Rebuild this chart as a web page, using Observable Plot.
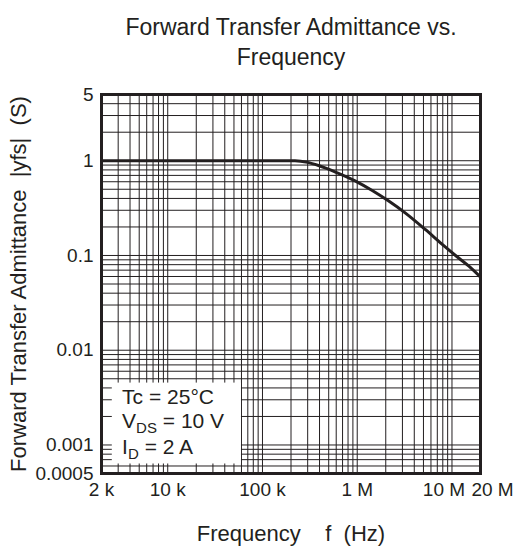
<!DOCTYPE html>
<html>
<head>
<meta charset="utf-8">
<script src="https://cdn.jsdelivr.net/npm/d3@7"></script>
<script src="https://cdn.jsdelivr.net/npm/@observablehq/plot@0.6"></script>
<style>
  html, body { margin: 0; padding: 0; background: #fff; }
  svg text { font-family: "Liberation Sans", Arial, sans-serif; }
</style>
</head>
<body>
<div id="chart"></div>
<script>
// Curve data
const freq = [2e3, 2.2e5, 3e5, 3.9e5, 5.9e5, 9.6e5, 1.44e6, 2.15e6, 3.23e6, 5.26e6, 7.9e6, 1.09e7, 1.51e7, 2e7];
const yfs  = [1, 1, 0.96, 0.89, 0.76, 0.61, 0.485, 0.375, 0.28, 0.187, 0.131, 0.1, 0.077, 0.059];

// Axis tick labels
const xTickValues = [2e3, 1e4, 1e5, 1e6, 1e7, 2e7];
const xTickLabels = ["2 k", "10 k", "100 k", "1 M", "10 M", "20 M"];
const xTickShift  = [0, 0, 0, 0, -8, 12];
const yTickValues = [5, 1, 0.1, 0.01, 0.001, 0.0005];
const yTickLabels = ["5", "1", "0.1", "0.01", "0.001", "0.0005"];

// Grid lines (1..9 per decade)
const xGrid = [];
for (const d of [1e3, 1e4, 1e5, 1e6, 1e7]) for (let k = 1; k <= 9; k++) { const v = k * d; if (v >= 2e3 && v <= 2e7) xGrid.push(v); }
const yGrid = [];
for (const d of [1e-4, 1e-3, 1e-2, 1e-1, 1]) for (let k = 1; k <= 9; k++) { const v = k * d; if (v >= 5e-4 - 1e-12 && v <= 5 + 1e-9) yGrid.push(v); }

// Conditions box
const boxX = [2.6e3, 6.0e4];
const boxY = [6.3e-4, 4.5e-3];
const condText = ["Tc = 25°C", "V_DS = 10 V", "I_D = 2 A"];
const condY = [3.17e-3, 1.77e-3, 9.4e-4];
const condX = 3.3e3;

const title = ["Forward Transfer Admittance vs.", "Frequency"];
const xLabel = "Frequency\u00a0\u00a0\u00a0 f \u00a0(Hz)";
const yLabel = "Forward Transfer Admittance \u00a0|yfs| \u00a0(S)";

const ink = "#231f20";
const curveData = freq.map((f, i) => ({f, v: yfs[i]}));

const chart = Plot.plot({
  width: 520,
  height: 559,
  marginLeft: 101,
  marginRight: 40,
  marginTop: 94,
  marginBottom: 86,
  style: {background: "#fff", fontFamily: "Liberation Sans, Arial, sans-serif"},
  x: {type: "log", domain: [2e3, 2e7], axis: null},
  y: {type: "log", domain: [5e-4, 5], axis: null},
  marks: [
    Plot.ruleX(xGrid, {x: d => d, stroke: ink, strokeWidth: 1}),
    Plot.ruleY(yGrid, {y: d => d, stroke: ink, strokeWidth: 1}),
    Plot.rect([0], {x1: () => boxX[0], x2: () => boxX[1], y1: () => boxY[0], y2: () => boxY[1], fill: "#fff"}),
    Plot.line(curveData, {x: "f", y: "v", stroke: ink, strokeWidth: 3, curve: "monotone-x"}),
    Plot.frame({stroke: ink, strokeWidth: 3}),
    Plot.text(condText, {x: () => condX, y: (d, i) => condY[i], text: d => d, textAnchor: "start", fontSize: 21, fill: ink}),
    ...xTickValues.map((v, i) =>
      Plot.text([v], {x: d => d, frameAnchor: "bottom", text: () => xTickLabels[i], dy: 22, dx: xTickShift[i], fontSize: 19, fill: ink})),
    Plot.text(yTickValues, {y: d => d, frameAnchor: "left", text: (d, i) => yTickLabels[i], textAnchor: "end", dx: -8, fontSize: 19, fill: ink}),
    Plot.text([xLabel], {frameAnchor: "bottom", text: d => d, dy: 67, fontSize: 22, fill: ink}),
    Plot.text([yLabel], {frameAnchor: "left", text: d => d, rotate: -90, textAnchor: "middle", dx: -83, fontSize: 22, fill: ink}),
    Plot.text([title[0]], {frameAnchor: "top", text: d => d, dy: -76, fontSize: 23, fill: ink}),
    Plot.text([title[1]], {frameAnchor: "top", text: d => d, dy: -46, fontSize: 23, fill: ink})
  ]
});

// Subscripts for V_DS and I_D
d3.select(chart).selectAll("text").each(function () {
  const t = this.textContent;
  const m = /^(.)_(\w+)(.*)$/.exec(t);
  if (!m) return;
  const el = d3.select(this);
  el.text(null);
  el.append("tspan").text(m[1]);
  el.append("tspan").attr("font-size", 15).attr("dy", 5).text(m[2]);
  el.append("tspan").attr("dy", -5).text(m[3]);
});

document.getElementById("chart").appendChild(chart);
</script>
</body>
</html>
